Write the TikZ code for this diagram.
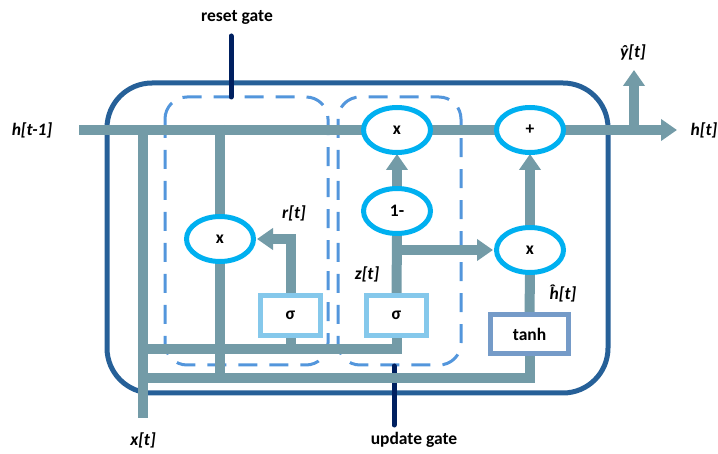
\documentclass[tikz,border=0pt]{standalone}
\usepackage{fontspec}
\setmainfont{Carlito}
\usetikzlibrary{arrows.meta,shapes.geometric}
\definecolor{flow}{RGB}{115,155,167}
\definecolor{cell}{RGB}{38,96,152}
\definecolor{gatedash}{RGB}{83,150,220}
\definecolor{navy}{RGB}{0,32,96}
\definecolor{opcyan}{RGB}{0,176,240}
\definecolor{sigbox}{RGB}{133,200,235}
\definecolor{tanhbox}{RGB}{117,155,200}
\pgfdeclarelayer{bgcell}
\pgfdeclarelayer{bgflow}
\pgfsetlayers{bgcell,bgflow,main}
\begin{document}
\begin{tikzpicture}[x=1pt,y=-1pt,
  fsz/.style={font=\fontsize{17.5}{20}\selectfont\bfseries},
  flowline/.style={draw=flow,line width=10pt},
  flowarrow/.style={flowline,-{Triangle[width=21pt,length=16pt]}},
  opnode/.style={ellipse,draw=opcyan,line width=5pt,fill=white,minimum width=67pt,minimum height=45pt,inner sep=0pt,fsz},
  sigmabox/.style={rectangle,draw=sigbox,line width=5pt,fill=white,minimum width=60pt,minimum height=40pt,inner sep=0pt,fsz},
  tanhnode/.style={rectangle,draw=tanhbox,line width=5pt,fill=white,minimum width=78pt,minimum height=39pt,inner sep=0pt,fsz},
  varlabel/.style={font=\fontsize{17.5}{20}\selectfont\bfseries\itshape,inner sep=0pt},
  gatelabel/.style={fsz,inner sep=0pt},
  gatebox/.style={draw=gatedash,line width=3pt,dash pattern=on 19pt off 12pt,rounded corners=22pt},
  pointer/.style={draw=navy,line width=5pt,line cap=round},
]
\useasboundingbox (0,0) rectangle (718,454);

% operator nodes
\node[opnode] (resetx) at (220,239) {x};
\node[opnode] (topx) at (397,130) {x};
\node[opnode] (oneminus) at (397,211) {1-};
\node[opnode] (plus) at (530,130) {+};
\node[opnode] (rightx) at (530,250) {x};
\node[sigmabox] (sigR) at (290.5,315.5) {σ};
\node[sigmabox] (sigU) at (396.5,315.5) {σ};
\node[tanhnode] (tanh) at (529.5,334) {tanh};

% labels
\node[gatelabel] (resetlbl) at (237,17) {reset gate};
\node[gatelabel] (updatelbl) at (414,440) {update gate};
\node[varlabel] (hprev) at (32,130) {h[t-1]};
\node[varlabel] (hnext) at (704,130) {h[t]};
\node[varlabel] (ylbl) at (633,52) {ŷ[t]};
\node[varlabel] (xlbl) at (143,440) {x[t]};
\node[varlabel] (rlbl) at (294,213) {r[t]};
\node[varlabel] (zlbl) at (367,274) {z[t]};
\node[varlabel] (hhat) at (563,293) {ĥ[t]};

% coordinates
\coordinate (hin) at (79,130);
\coordinate (hout) at (677,130);
\coordinate (yfork) at (634,130);
\coordinate (ytip) at (634,70);
\coordinate (xin) at (143,418);
\coordinate (xtop) at (143,125);
\coordinate (busA) at (143,349);
\coordinate (busB) at (143,378);
\coordinate (hR) at (220,125);
\coordinate (resetTop) at (231,36);
\coordinate (resetBot) at (231,97);
\coordinate (updTop) at (394,366);
\coordinate (updBot) at (394,425);

\begin{pgfonlayer}{bgcell}
  \draw[draw=cell,line width=5pt,rounded corners=45pt] (107,83) rectangle (608,393);
  \draw[gatebox] (165,97) rectangle (328,365);
  \draw[gatebox] (338,97) rectangle (461,365);
  \draw[pointer] (resetTop) -- (resetBot);
  \draw[pointer] (updTop) -- (updBot);
\end{pgfonlayer}

\begin{pgfonlayer}{bgflow}
  \draw[flowarrow] (hin) -- (hout);
  \draw[flowarrow] (yfork) -- (ytip);
  \draw[flowline] (xin) -- (xtop);
  \draw[flowline] (hR) -- (resetx.north);
  \draw[flowline] (resetx.south) -- (resetx.south |- busB);
  \draw[flowline] (sigU.south) |- (busA);
  \draw[flowline] (sigR.south) -- (sigR.south |- busA);
  \draw[flowline] (tanh.south) |- (busB);
  \draw[flowarrow] (sigR.north) |- ([xshift=1pt]resetx.east);
  \draw[flowline] (sigU.north) -- (oneminus.south);
  \draw[flowarrow] (oneminus.north) -- ([yshift=1pt]topx.south);
  \draw[flowarrow] (sigU.north |- rightx.west) -- ([xshift=-1pt]rightx.west);
  \draw[flowline] (tanh.north) -- (rightx.south);
  \draw[flowarrow] (rightx.north) -- ([yshift=1pt]plus.south);
\end{pgfonlayer}
\end{tikzpicture}
\end{document}
